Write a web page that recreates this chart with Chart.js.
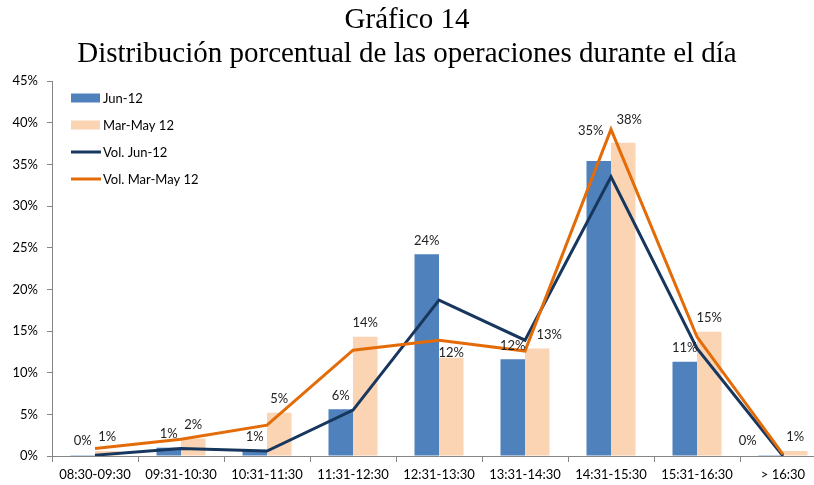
<!DOCTYPE html>
<html>
<head>
<meta charset="utf-8">
<script src="https://cdn.jsdelivr.net/npm/chart.js@4.4.0/dist/chart.umd.min.js"></script>
<style>
  html, body { margin: 0; padding: 0; background: #fff; overflow: hidden; }
  #wrap { position: relative; width: 814px; height: 485px; overflow: hidden; }
  .title { position: absolute; left: 0; width: 814px; text-align: center; line-height: 34px;
           font-family: "Liberation Serif", serif; font-size: 29px; color: #000; }
  #chartBox { position: absolute; left: 0; top: 0; width: 826px; height: 485px; }
</style>
</head>
<body>
<div id="wrap">
  <div id="chartBox"><canvas id="distChart"></canvas></div>
  <div class="title" style="top:1px">Gráfico 14</div>
  <div class="title" style="top:35px">Distribución porcentual de las operaciones durante el día</div>
</div>
<script>
// =========================
// Data (in %)
// =========================
const categories = ["08:30-09:30", "09:31-10:30", "10:31-11:30", "11:31-12:30", "12:31-13:30",
                    "13:31-14:30", "14:31-15:30", "15:31-16:30", "> 16:30"];
const jun12       = [0.1, 1.0, 0.6, 5.6, 24.2, 11.6, 35.4, 11.3, 0.1];
const marMay12    = [0.6, 2.1, 5.2, 14.3, 11.8, 12.9, 37.6, 14.9, 0.6];
const volJun12    = [0.1, 0.9, 0.6, 5.5, 18.7, 13.9, 33.5, 12.9, 0];
const volMarMay12 = [0.9, 2.0, 3.7, 12.7, 13.9, 12.6, 39.2, 14.3, 0.2];
const yTicks = [0, 5, 10, 15, 20, 25, 30, 35, 40, 45];

const FONT = "Lato, 'Open Sans', sans-serif";
const AXIS_GREY = "#868686";

// =========================
// Plugins
// =========================

// percentage labels above the bars (a few are nudged off the lines, like the original)
const barLabels = {
  id: "barLabels",
  afterDatasetsDraw(chart, args, opts) {
    const { ctx } = chart;
    const nudge = opts.nudge || {};
    ctx.save();
    ctx.font = "13px " + FONT;
    ctx.fillStyle = "#222";
    ctx.textAlign = "center";
    ctx.textBaseline = "middle";
    chart.data.datasets.forEach((ds, i) => {
      if (ds.type !== "bar") return;
      chart.getDatasetMeta(i).data.forEach((bar, j) => {
        const [dx, dy] = nudge[i + ":" + j] || [0, 0];
        ctx.fillText(Math.round(ds.data[j]) + "%", bar.x + dx, bar.y - 14 + dy);
      });
    });
    ctx.restore();
  }
};

// legend drawn inside the plot, top left
const innerLegend = {
  id: "innerLegend",
  afterDraw(chart) {
    const { ctx, chartArea } = chart;
    const x = chartArea.left + 19;
    let y = chartArea.top + 17;
    ctx.save();
    ctx.font = "13px " + FONT;
    ctx.textBaseline = "middle";
    chart.data.datasets.forEach(ds => {
      if (ds.type === "bar") {
        ctx.fillStyle = ds.backgroundColor;
        ctx.fillRect(x, y - 4.5, 29, 9);
      } else {
        ctx.strokeStyle = ds.borderColor;
        ctx.lineWidth = 3;
        ctx.beginPath();
        ctx.moveTo(x, y);
        ctx.lineTo(x + 30, y);
        ctx.stroke();
      }
      ctx.fillStyle = "#000";
      ctx.fillText(ds.label, x + 32, y + 1);
      y += 27;
    });
    ctx.restore();
  }
};

// =========================
// Chart
// =========================
const ctx = document.getElementById("distChart").getContext("2d");

new Chart(ctx, {
  data: {
    labels: categories,
    datasets: [
      { type: "bar", label: "Jun-12", data: jun12, backgroundColor: "#4F81BD", order: 2,
        categoryPercentage: 0.57, barPercentage: 1.0 },
      { type: "bar", label: "Mar-May 12", data: marMay12, backgroundColor: "#FBD4B4", order: 2,
        categoryPercentage: 0.57, barPercentage: 1.0 },
      { type: "line", label: "Vol. Jun-12", data: volJun12, borderColor: "#17375E", borderWidth: 3,
        pointRadius: 0, tension: 0, fill: false, order: 1 },
      { type: "line", label: "Vol. Mar-May 12", data: volMarMay12, borderColor: "#E36C09", borderWidth: 3,
        pointRadius: 0, tension: 0, fill: false, order: 0 }
    ]
  },
  options: {
    responsive: true,
    maintainAspectRatio: false,
    animation: false,
    layout: { padding: { top: 81, left: 0, right: 0, bottom: 0 } },
    plugins: {
      legend: { display: false },
      tooltip: { enabled: false },
      barLabels: {
        nudge: { "0:6": [-8, -16], "1:6": [6, -9], "1:4": [0, 9], "1:5": [12, 0], "0:8": [-23, 0] }
      }
    },
    scales: {
      x: {
        offset: true,
        grid: { offset: true, drawOnChartArea: false, drawTicks: true, tickLength: 6, color: AXIS_GREY },
        border: { color: AXIS_GREY, width: 1 },
        ticks: { font: { family: FONT, size: 13 }, color: "#000", padding: 5, maxRotation: 0, autoSkip: false },
        afterFit(scale) { scale.height = 29; }
      },
      y: {
        min: 0,
        max: 45,
        afterBuildTicks(scale) { scale.ticks = yTicks.map(v => ({ value: v })); },
        grid: { drawOnChartArea: false, drawTicks: true, tickLength: 5, color: AXIS_GREY },
        border: { color: AXIS_GREY, width: 1 },
        ticks: { font: { family: FONT, size: 13 }, color: "#000", padding: 9,
                 callback: v => v + "%" },
        afterFit(scale) { scale.width = 52; }
      }
    }
  },
  plugins: [barLabels, innerLegend]
});
</script>
</body>
</html>
